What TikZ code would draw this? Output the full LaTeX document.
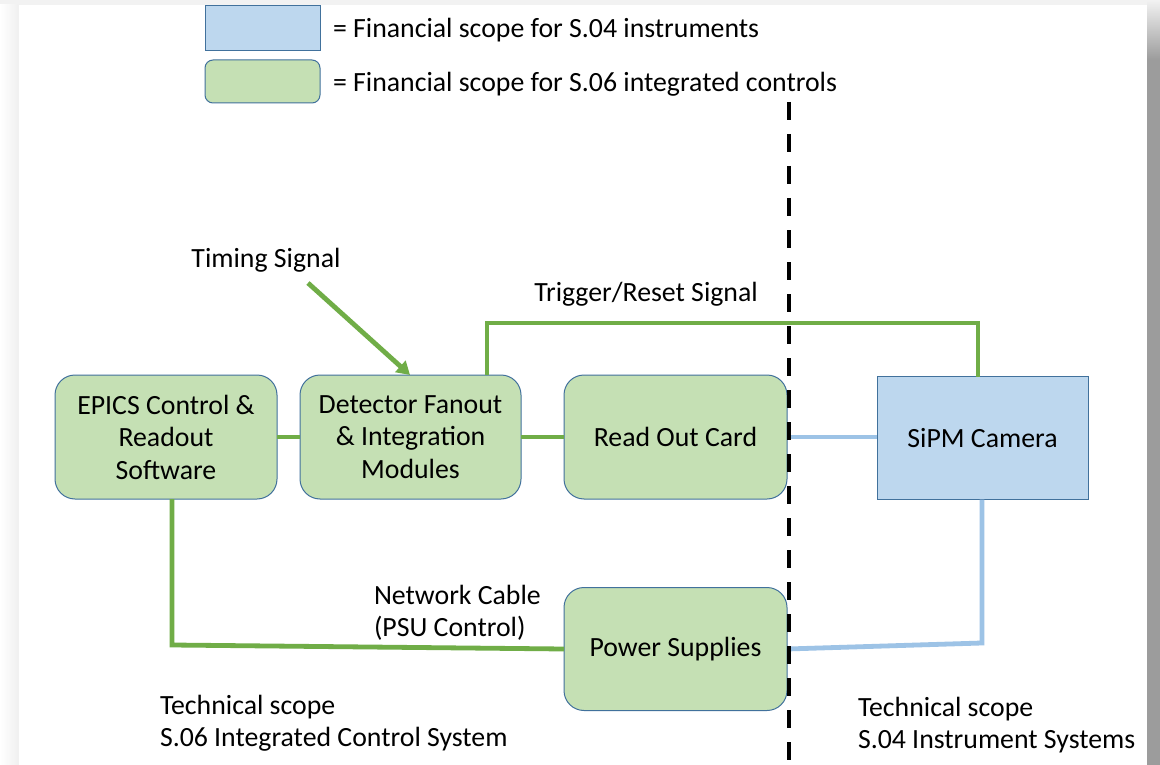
\documentclass[tikz,border=0pt]{standalone}
\usepackage{fontspec}
\setmainfont{Carlito}
\usetikzlibrary{arrows.meta}
\definecolor{gfill}{HTML}{C5E0B4}
\definecolor{bfill}{HTML}{BDD7EE}
\definecolor{edge}{HTML}{41719C}
\definecolor{gline}{HTML}{70AD47}
\definecolor{bline}{HTML}{9DC3E6}
\begin{document}
\begin{tikzpicture}[x=1pt,y=-1pt,
  every node/.style={font=\fontsize{27.8}{32.5}\selectfont, inner sep=0pt, outer sep=0pt},
  gbox/.style={draw=edge, line width=1pt, fill=gfill, rounded corners=20pt, align=center},
  bbox/.style={draw=edge, line width=1pt, fill=bfill, align=center},
  gwire/.style={draw=gline, line width=4.8pt},
  bwire/.style={draw=bline, line width=4.8pt},
  lbl/.style={align=left, anchor=west}]
\useasboundingbox (0,0) rectangle (1160,765);
% page frame
\fill[gray!10] (0,0) rectangle (1160,5);
\shade[left color=white, right color=gray!12] (0,5) rectangle (19,765);
\shade[top color=gray!10, bottom color=gray!78] (1147,0) rectangle (1160,60);
\fill[gray!78] (1147,60) rectangle (1160,765);
\fill[white] (19,5) rectangle (1147,765);

% legend
\node[bbox, minimum width=115pt, minimum height=45pt] (lb) at (262.5,28.5) {};
\node[gbox, rounded corners=8pt, minimum width=115pt, minimum height=43pt] (lg) at (262.5,81.5) {};
\node[lbl] (leg1) at (333,30) {= Financial scope for S.04 instruments};
\node[lbl] (leg2) at (333,84) {= Financial scope for S.06 integrated controls};

% boxes
\node[gbox, minimum width=222pt, minimum height=124pt] (epics) at (166,437) {EPICS Control \&\\Readout\\Software};
\node[gbox, minimum width=221pt, minimum height=124pt] (det) at (410.5,437) {Detector Fanout\\\& Integration\\Modules};
\node[gbox, minimum width=223pt, minimum height=124pt] (roc) at (675.5,437) {Read Out Card};
\node[bbox, minimum width=211pt, minimum height=123pt] (sipm) at (982.5,438) {SiPM Camera};
\node[gbox, minimum width=223pt, minimum height=123pt] (psu) at (675.5,649) {Power Supplies};

% coordinates
\coordinate (t1) at (487,323);
\coordinate (t2) at (978,323);
\coordinate (ts) at (308,283);
\coordinate (tsend) at (410,375);
\coordinate (n1) at (172,645);
\coordinate (p1) at (982,643);
\coordinate (d1) at (789,102);
\coordinate (d2) at (789,765);

% connectors
\draw[gwire] (epics.east) -- (det.west);
\draw[gwire] (det.east) -- (roc.west);
\draw[bwire] (roc.east) -- (roc.east -| sipm.west);
\draw[gwire] (det.north -| t1) -- (t1) -- (t2) -- (sipm.north -| t2);
\draw[gwire, -{Triangle[length=13pt,width=15pt]}] (ts) -- (det.north -| tsend);
\draw[gwire] (epics.south -| n1) -- (n1) -- (psu.west);
\draw[bwire] (psu.east) -- (p1) -- (sipm.south -| p1);

% labels
\node (timing) at (266,260) {Timing Signal};
\node (trig) at (646,294) {Trigger/Reset Signal};
\node[lbl] (net) at (374,613) {Network Cable\\(PSU Control)};
\node[lbl] (tsl) at (160,723) {Technical scope\\S.06 Integrated Control System};
\node[lbl] (tsr) at (858,725) {Technical scope\\S.04 Instrument Systems};

% scope divider
\draw[black, line width=4pt, dash pattern=on 18pt off 14pt] (d1) -- (d2);
\end{tikzpicture}
\end{document}
